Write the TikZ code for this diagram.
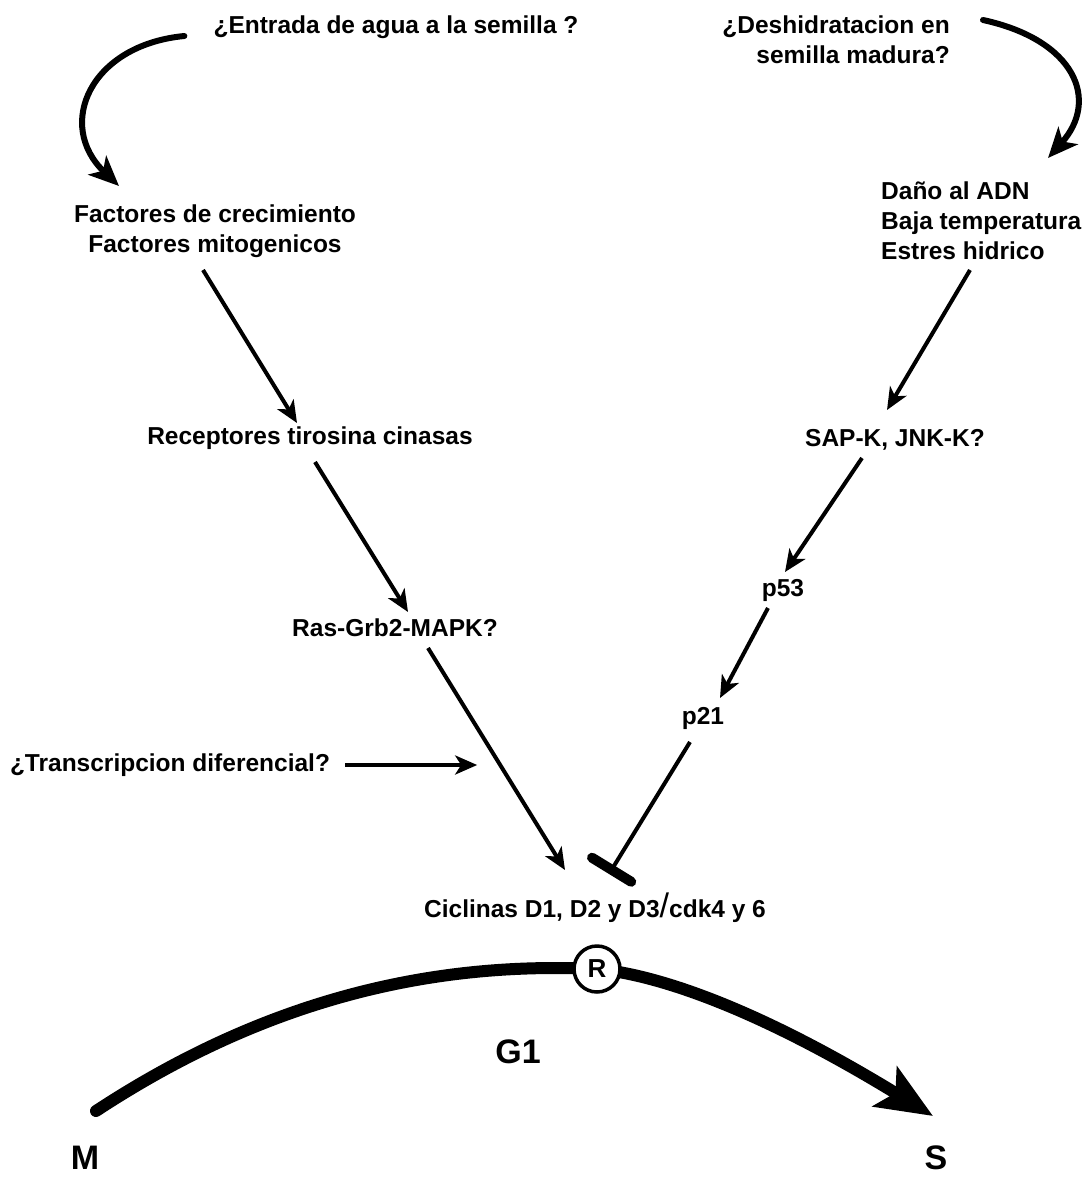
\documentclass[tikz,border=0pt]{standalone}
\usepackage{fontspec}
\setmainfont{Liberation Sans}
\usepackage{tikz}
\usetikzlibrary{arrows.meta,calc}
\tikzset{
  signal/.style={-{Stealth[length=22pt, width=19pt, inset=6pt]}, line width=4pt},
  bend signal/.style={-{Stealth[length=30pt, width=26pt, inset=8pt]}, line width=6pt, line cap=round},
  inhibit/.style={-{Bar[width=46pt, line width=10pt, round]}, line width=4pt},
  cycle line/.style={-{Stealth[length=56pt, width=46pt, inset=12pt]}, line width=12pt, line cap=round},
  factor/.style={font=\fontsize{24.5}{30}\selectfont\bfseries, inner sep=0pt},
  phase/.style={font=\fontsize{34}{40}\selectfont\bfseries, inner sep=0pt},
  checkpoint/.style={circle, draw, line width=3.5pt, fill=white, minimum size=46pt,
    inner sep=0pt, font=\fontsize{26}{28}\selectfont\bfseries}
}
\begin{document}
\begin{tikzpicture}[x=1pt, y=-1pt]
  \useasboundingbox (0,0) rectangle (1082,1177);
  % estimulos de entrada
  \node[factor] (agua) at (396,27) {¿Entrada de agua a la semilla ?};
  \node[factor, anchor=east, align=right] (desh) at (950,40)
    {¿Deshidratacion en\\semilla madura?};
  \node[factor, align=center] (fac) at (215,231)
    {Factores de crecimiento\\Factores mitogenicos};
  \node[factor, anchor=west, align=left] (dano) at (881,221)
    {Daño al ADN\\Baja temperatura\\Estres hidrico};
  % vias de senalizacion
  \node[factor] (rec) at (310,438) {Receptores tirosina cinasas};
  \node[factor] (ras) at (395,628) {Ras-Grb2-MAPK?};
  \node[factor] (sap) at (895,440) {SAP-K, JNK-K?};
  \node[factor] (p53) at (783,590) {p53};
  \node[factor] (p21) at (703,718) {p21};
  \node[factor] (trans) at (170,765) {¿Transcripcion diferencial?};
  \node[factor] (cic) at (595,908)
    {Ciclinas D1, D2 y D3{\mdseries\fontsize{34}{34}\selectfont /}cdk4 y 6};
  % ciclo celular
  \node[phase] (g1) at (518,1052) {G1};
  \node[phase] (m) at (85,1158) {M};
  \node[phase] (s) at (936,1158) {S};
  \coordinate (inicio) at (96,1111);
  \coordinate (fin) at (933,1116);
  \node[checkpoint, draw=none, fill=none] (R) at (597,969) {};
  \draw[cycle line] (inicio) .. controls (280,990) and (450,962) .. (R.center)
    .. controls (660,975) and (760,1010) .. (fin);
  \node[checkpoint] at (R) {R};
  % flechas curvas superiores
  \draw[bend signal] ([shift={(-29,9)}]agua.west) .. controls (90,45) and (55,125)
    .. ([shift={(-96,-45)}]fac.center);
  \draw[bend signal] ([shift={(33,-20)}]desh.east) .. controls (1075,40) and (1100,100)
    .. ([shift={(167,-63)}]dano.west);
  % conexiones
  \draw[signal] ([shift={(-12,39)}]fac.center) -- ([shift={(-13,-15)}]rec.center);
  \draw[signal] ([shift={(5,24)}]rec.center) -- ([shift={(13,-16)}]ras.center);
  \draw[signal] ([shift={(33,20)}]ras.center) -- ([shift={(-30,-38)}]cic.center);
  \draw[signal] ([shift={(89,49)}]dano.west) -- ([shift={(-8,-30)}]sap.center);
  \draw[signal] ([shift={(-33,18)}]sap.center) -- ([shift={(2,-18)}]p53.center);
  \draw[signal] ([shift={(-15,18)}]p53.center) -- ([shift={(17,-20)}]p21.center);
  \draw[inhibit] ([shift={(-13,24)}]p21.center) -- ([shift={(14,-34)}]cic.center);
  \draw[signal] ([xshift=15pt]trans.east) -- ([xshift=147pt]trans.east);
\end{tikzpicture}
\end{document}
